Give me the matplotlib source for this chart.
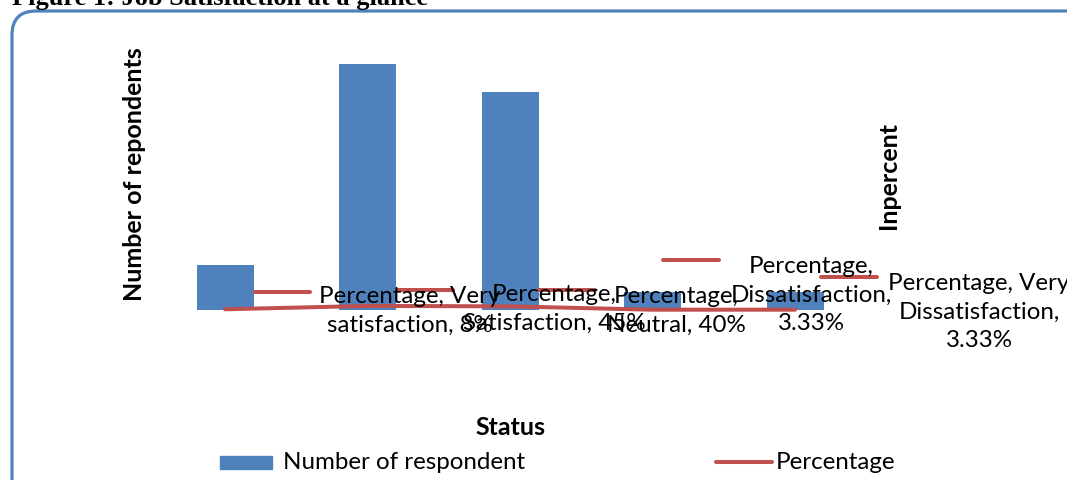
import matplotlib
matplotlib.use("Agg")
import matplotlib.pyplot as plt
from matplotlib.patches import FancyBboxPatch, Rectangle
import numpy as np

# ---- data ----
categories = ["Very satisfaction", "Satisfaction", "Neutral", "Dissatisfaction", "Very Dissatisfaction"]
respondents = [5, 27, 24, 2, 2]
percentages = [8, 45, 40, 3.33, 3.33]
label_texts = [
    "Percentage, Very\nsatisfaction, 8%",
    "Percentage,\nSatisfaction, 45%",
    "Percentage,\nNeutral, 40%",
    "Percentage,\nDissatisfaction,\n3.33%",
    "Percentage, Very\nDissatisfaction,\n3.33%",
]

# ---- layout (pixels from top-left) ----
W, H = 1067, 481
BLUE = "#4F81BD"
RED = "#C0504D"
FONT = "Lato"
FS = 17.4
FSB = 18.0

fig = plt.figure(figsize=(W / 100, H / 100), dpi=100)

# overlay axes in pixel coordinates (origin top-left)
ov = fig.add_axes([0, 0, 1, 1], zorder=0)
ov.set_xlim(0, W)
ov.set_ylim(H, 0)
ov.set_axis_off()

# main axes: bar centers at 225 + 142.5*i, baseline at y=311, 9.1 px per unit
left_px = 225 - 71.25
width_px = 142.5 * 5
base_px = 311
unit_px = 9.1
ymax = 30
ax = fig.add_axes([left_px / W, 1 - base_px / H, width_px / W, ymax * unit_px / H], zorder=1)
ax.set_xlim(-0.5, 4.5)
ax.set_ylim(0, ymax)
ax.set_axis_off()

x = np.arange(len(categories))
ax.bar(x, respondents, width=0.4, color=BLUE, zorder=2)
ax.plot(x, np.array(percentages) / 100, color=RED, lw=2.9,
        solid_capstyle="round", zorder=3, clip_on=False)

top = fig.add_axes([0, 0, 1, 1], zorder=2)
top.set_xlim(0, W)
top.set_ylim(H, 0)
top.set_axis_off()

# data labels with legend keys (key x0, x1, key y, text center x, text center y)
label_pos = [
    (255, 310, 293, 410, 311),
    (397, 453, 291, 554, 309),
    (539, 595, 291, 676, 311),
    (663, 719, 261, 811, 295),
    (821, 877, 278, 979, 312),
]
for txt, (k0, k1, ky, tx, ty) in zip(label_texts, label_pos):
    top.plot([k0, k1], [ky, ky], color=RED, lw=2.9, solid_capstyle="round", clip_on=False)
    top.text(tx, ty, txt, ha="center", va="center", fontsize=FS,
             family=FONT, linespacing=1.42, color="black")

# axis titles
top.text(135, 174, "Number of repondents", rotation=90, ha="center", va="center",
         fontsize=FSB, fontweight="bold", family=FONT)
top.text(889, 176, "Inpercent", rotation=90, ha="center", va="center",
         fontsize=FSB, fontweight="bold", family=FONT)
top.text(510, 428, "Status", ha="center", va="center",
         fontsize=FSB, fontweight="bold", family=FONT)

# legend
top.add_patch(Rectangle((220, 457), 52, 13, color=BLUE, clip_on=False))
top.text(283, 463, "Number of respondent", ha="left", va="center",
         fontsize=FS, family=FONT)
top.plot([716, 772], [463, 463], color=RED, lw=2.9, solid_capstyle="round", clip_on=False)
top.text(776, 463, "Percentage", ha="left", va="center",
         fontsize=FS, family=FONT)

# rounded border (extends beyond right and bottom edges)
ov.add_patch(FancyBboxPatch((12, 12), 1200, 600,
                            boxstyle="round,pad=0,rounding_size=24",
                            fill=False, edgecolor=BLUE, lw=2.3, clip_on=False))

# title (cut off at top)
top.text(12, 5.5, "Figure 1: Job Satisfaction at a glance", ha="left", va="baseline",
         fontsize=19, fontweight="bold", family="Liberation Serif")

fig.savefig("out.png", dpi=100)
